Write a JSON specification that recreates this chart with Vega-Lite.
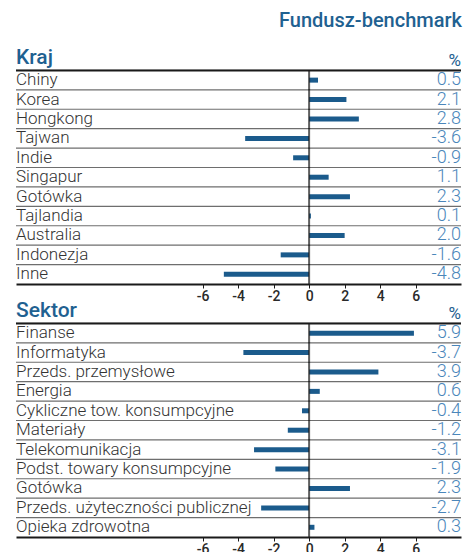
{
  "$schema": "https://vega.github.io/schema/vega-lite/v6.json",
  "padding": {"left": 15, "right": 9, "top": 10, "bottom": 0},
  "title": {"text": "Fundusz-benchmark", "anchor": "end", "fontSize": 20, "fontWeight": 500, "color": "#1f6191", "font": "Roboto", "offset": 16},
  "bounds": "flush",
  "spacing": 20,
  "config": {
    "view": {"stroke": null},
    "font": "Roboto",
    "locale": {"number": {"decimal": ".", "thousands": ",", "grouping": [3], "currency": ["$", ""], "minus": "-"}}
  },
  "datasets": {
    "kraj": [
      {"label": "Kraj", "value": null, "kind": "header"},
      {"label": "Chiny", "value": 0.5, "kind": "row"},
      {"label": "Korea", "value": 2.1, "kind": "row"},
      {"label": "Hongkong", "value": 2.8, "kind": "row"},
      {"label": "Tajwan", "value": -3.6, "kind": "row"},
      {"label": "Indie", "value": -0.9, "kind": "row"},
      {"label": "Singapur", "value": 1.1, "kind": "row"},
      {"label": "Gotówka", "value": 2.3, "kind": "row"},
      {"label": "Tajlandia", "value": 0.1, "kind": "row"},
      {"label": "Australia", "value": 2.0, "kind": "row"},
      {"label": "Indonezja", "value": -1.6, "kind": "row"},
      {"label": "Inne", "value": -4.8, "kind": "row"}
    ],
    "sektor": [
      {"label": "Sektor", "value": null, "kind": "header"},
      {"label": "Finanse", "value": 5.9, "kind": "row"},
      {"label": "Informatyka", "value": -3.7, "kind": "row"},
      {"label": "Przeds. przemysłowe", "value": 3.9, "kind": "row"},
      {"label": "Energia", "value": 0.6, "kind": "row"},
      {"label": "Cykliczne tow. konsumpcyjne", "value": -0.4, "kind": "row"},
      {"label": "Materiały", "value": -1.2, "kind": "row"},
      {"label": "Telekomunikacja", "value": -3.1, "kind": "row"},
      {"label": "Podst. towary konsumpcyjne", "value": -1.9, "kind": "row"},
      {"label": "Gotówka", "value": 2.3, "kind": "row"},
      {"label": "Przeds. użyteczności publicznej", "value": -2.7, "kind": "row"},
      {"label": "Opieka zdrowotna", "value": 0.3, "kind": "row"}
    ]
  },
  "vconcat": [
    {
      "data": {"name": "kraj"},
      "width": 445,
      "height": 233,
      "layer": [
        {
          "transform": [{"filter": "datum.kind == 'row'"}],
          "mark": {"type": "rule", "color": "#6e6e6e", "strokeWidth": 1.2},
          "encoding": {"y": {"field": "label", "type": "nominal", "bandPosition": 0, "axis": null, "scale": {"domain": ["Kraj","Chiny","Korea","Hongkong","Tajwan","Indie","Singapur","Gotówka","Tajlandia","Australia","Indonezja","Inne"], "paddingInner": 0, "paddingOuter": 0}}}
        },
        {
          "transform": [{"filter": "datum.kind == 'header'"}],
          "mark": {"type": "rule", "color": "#1a1a1a", "strokeWidth": 2},
          "encoding": {"y": {"field": "label", "type": "nominal", "bandPosition": 1, "axis": null, "scale": {"domain": ["Kraj","Chiny","Korea","Hongkong","Tajwan","Indie","Singapur","Gotówka","Tajlandia","Australia","Indonezja","Inne"], "paddingInner": 0, "paddingOuter": 0}}}
        },
        {
          "transform": [{"filter": "datum.kind == 'row'"}],
          "mark": {"type": "bar", "color": "#1b5b8c", "size": 5},
          "encoding": {
            "y": {"field": "label", "type": "nominal", "axis": null, "scale": {"domain": ["Kraj","Chiny","Korea","Hongkong","Tajwan","Indie","Singapur","Gotówka","Tajlandia","Australia","Indonezja","Inne"], "paddingInner": 0, "paddingOuter": 0}},
            "x": {"field": "value", "type": "quantitative", "scale": {"domain": [-16.5, 8.55], "nice": false, "zero": false}, "axis": {"values": [-6,-4,-2,0,2,4,6], "title": null, "grid": false, "domain": true, "domainColor": "#1a1a1a", "domainWidth": 2, "tickColor": "#1a1a1a", "tickSize": 4, "tickWidth": 1, "labelFont": "Roboto", "labelFontSize": 14, "labelFontWeight": 500, "labelColor": "#2a2a2a", "labelPadding": 1}},
            "x2": {"datum": 0}
          }
        },
        {
          "transform": [{"filter": "datum.kind == 'row'"}],
          "mark": {"type": "tick", "color": "#1a1a1a", "size": 20, "thickness": 2},
          "encoding": {
            "y": {"field": "label", "type": "nominal", "axis": null, "scale": {"domain": ["Kraj","Chiny","Korea","Hongkong","Tajwan","Indie","Singapur","Gotówka","Tajlandia","Australia","Indonezja","Inne"], "paddingInner": 0, "paddingOuter": 0}},
            "x": {"datum": 0, "type": "quantitative", "scale": {"domain": [-16.5, 8.55], "nice": false, "zero": false}}
          }
        },
        {
          "transform": [{"filter": "datum.kind == 'row'"}],
          "mark": {"type": "text", "align": "left", "baseline": "middle", "fontSize": 17, "fontWeight": 300, "color": "#333333"},
          "encoding": {
            "y": {"field": "label", "type": "nominal", "axis": null, "scale": {"domain": ["Kraj","Chiny","Korea","Hongkong","Tajwan","Indie","Singapur","Gotówka","Tajlandia","Australia","Indonezja","Inne"], "paddingInner": 0, "paddingOuter": 0}},
            "x": {"datum": -16.5, "type": "quantitative", "scale": {"domain": [-16.5, 8.55], "nice": false, "zero": false}},
            "text": {"field": "label"}
          }
        },
        {
          "transform": [{"filter": "datum.kind == 'row'"}],
          "mark": {"type": "text", "align": "right", "baseline": "middle", "fontSize": 18, "fontWeight": 300, "color": "#4a86ba"},
          "encoding": {
            "y": {"field": "label", "type": "nominal", "axis": null, "scale": {"domain": ["Kraj","Chiny","Korea","Hongkong","Tajwan","Indie","Singapur","Gotówka","Tajlandia","Australia","Indonezja","Inne"], "paddingInner": 0, "paddingOuter": 0}},
            "x": {"datum": 8.55, "type": "quantitative", "scale": {"domain": [-16.5, 8.55], "nice": false, "zero": false}},
            "text": {"field": "value", "type": "quantitative", "format": ".1f"}
          }
        },
        {
          "transform": [{"filter": "datum.kind == 'header'"}],
          "mark": {"type": "text", "align": "left", "baseline": "middle", "fontSize": 21, "fontWeight": 500, "color": "#1f6191", "dy": -3},
          "encoding": {
            "y": {"field": "label", "type": "nominal", "axis": null, "scale": {"domain": ["Kraj","Chiny","Korea","Hongkong","Tajwan","Indie","Singapur","Gotówka","Tajlandia","Australia","Indonezja","Inne"], "paddingInner": 0, "paddingOuter": 0}},
            "x": {"datum": -16.5, "type": "quantitative", "scale": {"domain": [-16.5, 8.55], "nice": false, "zero": false}},
            "text": {"field": "label"}
          }
        },
        {
          "transform": [{"filter": "datum.kind == 'header'"}],
          "mark": {"type": "text", "align": "right", "baseline": "middle", "fontSize": 17, "fontWeight": 400, "color": "#1f6191", "text": "%"},
          "encoding": {
            "y": {"field": "label", "type": "nominal", "axis": null, "scale": {"domain": ["Kraj","Chiny","Korea","Hongkong","Tajwan","Indie","Singapur","Gotówka","Tajlandia","Australia","Indonezja","Inne"], "paddingInner": 0, "paddingOuter": 0}},
            "x": {"datum": 8.55, "type": "quantitative", "scale": {"domain": [-16.5, 8.55], "nice": false, "zero": false}}
          }
        }
      ]
    },
    {
      "data": {"name": "sektor"},
      "width": 445,
      "height": 233,
      "layer": [
        {
          "transform": [{"filter": "datum.kind == 'row'"}],
          "mark": {"type": "rule", "color": "#6e6e6e", "strokeWidth": 1.2},
          "encoding": {"y": {"field": "label", "type": "nominal", "bandPosition": 0, "axis": null, "scale": {"domain": ["Sektor","Finanse","Informatyka","Przeds. przemysłowe","Energia","Cykliczne tow. konsumpcyjne","Materiały","Telekomunikacja","Podst. towary konsumpcyjne","Gotówka","Przeds. użyteczności publicznej","Opieka zdrowotna"], "paddingInner": 0, "paddingOuter": 0}}}
        },
        {
          "transform": [{"filter": "datum.kind == 'header'"}],
          "mark": {"type": "rule", "color": "#1a1a1a", "strokeWidth": 2},
          "encoding": {"y": {"field": "label", "type": "nominal", "bandPosition": 1, "axis": null, "scale": {"domain": ["Sektor","Finanse","Informatyka","Przeds. przemysłowe","Energia","Cykliczne tow. konsumpcyjne","Materiały","Telekomunikacja","Podst. towary konsumpcyjne","Gotówka","Przeds. użyteczności publicznej","Opieka zdrowotna"], "paddingInner": 0, "paddingOuter": 0}}}
        },
        {
          "transform": [{"filter": "datum.kind == 'row'"}],
          "mark": {"type": "bar", "color": "#1b5b8c", "size": 5},
          "encoding": {
            "y": {"field": "label", "type": "nominal", "axis": null, "scale": {"domain": ["Sektor","Finanse","Informatyka","Przeds. przemysłowe","Energia","Cykliczne tow. konsumpcyjne","Materiały","Telekomunikacja","Podst. towary konsumpcyjne","Gotówka","Przeds. użyteczności publicznej","Opieka zdrowotna"], "paddingInner": 0, "paddingOuter": 0}},
            "x": {"field": "value", "type": "quantitative", "scale": {"domain": [-16.5, 8.55], "nice": false, "zero": false}, "axis": {"values": [-6,-4,-2,0,2,4,6], "title": null, "grid": false, "domain": true, "domainColor": "#1a1a1a", "domainWidth": 2, "tickColor": "#1a1a1a", "tickSize": 4, "tickWidth": 1, "labelFont": "Roboto", "labelFontSize": 14, "labelFontWeight": 500, "labelColor": "#2a2a2a", "labelPadding": 1}},
            "x2": {"datum": 0}
          }
        },
        {
          "transform": [{"filter": "datum.kind == 'row'"}],
          "mark": {"type": "tick", "color": "#1a1a1a", "size": 20, "thickness": 2},
          "encoding": {
            "y": {"field": "label", "type": "nominal", "axis": null, "scale": {"domain": ["Sektor","Finanse","Informatyka","Przeds. przemysłowe","Energia","Cykliczne tow. konsumpcyjne","Materiały","Telekomunikacja","Podst. towary konsumpcyjne","Gotówka","Przeds. użyteczności publicznej","Opieka zdrowotna"], "paddingInner": 0, "paddingOuter": 0}},
            "x": {"datum": 0, "type": "quantitative", "scale": {"domain": [-16.5, 8.55], "nice": false, "zero": false}}
          }
        },
        {
          "transform": [{"filter": "datum.kind == 'row'"}],
          "mark": {"type": "text", "align": "left", "baseline": "middle", "fontSize": 17, "fontWeight": 300, "color": "#333333"},
          "encoding": {
            "y": {"field": "label", "type": "nominal", "axis": null, "scale": {"domain": ["Sektor","Finanse","Informatyka","Przeds. przemysłowe","Energia","Cykliczne tow. konsumpcyjne","Materiały","Telekomunikacja","Podst. towary konsumpcyjne","Gotówka","Przeds. użyteczności publicznej","Opieka zdrowotna"], "paddingInner": 0, "paddingOuter": 0}},
            "x": {"datum": -16.5, "type": "quantitative", "scale": {"domain": [-16.5, 8.55], "nice": false, "zero": false}},
            "text": {"field": "label"}
          }
        },
        {
          "transform": [{"filter": "datum.kind == 'row'"}],
          "mark": {"type": "text", "align": "right", "baseline": "middle", "fontSize": 18, "fontWeight": 300, "color": "#4a86ba"},
          "encoding": {
            "y": {"field": "label", "type": "nominal", "axis": null, "scale": {"domain": ["Sektor","Finanse","Informatyka","Przeds. przemysłowe","Energia","Cykliczne tow. konsumpcyjne","Materiały","Telekomunikacja","Podst. towary konsumpcyjne","Gotówka","Przeds. użyteczności publicznej","Opieka zdrowotna"], "paddingInner": 0, "paddingOuter": 0}},
            "x": {"datum": 8.55, "type": "quantitative", "scale": {"domain": [-16.5, 8.55], "nice": false, "zero": false}},
            "text": {"field": "value", "type": "quantitative", "format": ".1f"}
          }
        },
        {
          "transform": [{"filter": "datum.kind == 'header'"}],
          "mark": {"type": "text", "align": "left", "baseline": "middle", "fontSize": 21, "fontWeight": 500, "color": "#1f6191", "dy": -3},
          "encoding": {
            "y": {"field": "label", "type": "nominal", "axis": null, "scale": {"domain": ["Sektor","Finanse","Informatyka","Przeds. przemysłowe","Energia","Cykliczne tow. konsumpcyjne","Materiały","Telekomunikacja","Podst. towary konsumpcyjne","Gotówka","Przeds. użyteczności publicznej","Opieka zdrowotna"], "paddingInner": 0, "paddingOuter": 0}},
            "x": {"datum": -16.5, "type": "quantitative", "scale": {"domain": [-16.5, 8.55], "nice": false, "zero": false}},
            "text": {"field": "label"}
          }
        },
        {
          "transform": [{"filter": "datum.kind == 'header'"}],
          "mark": {"type": "text", "align": "right", "baseline": "middle", "fontSize": 17, "fontWeight": 400, "color": "#1f6191", "text": "%"},
          "encoding": {
            "y": {"field": "label", "type": "nominal", "axis": null, "scale": {"domain": ["Sektor","Finanse","Informatyka","Przeds. przemysłowe","Energia","Cykliczne tow. konsumpcyjne","Materiały","Telekomunikacja","Podst. towary konsumpcyjne","Gotówka","Przeds. użyteczności publicznej","Opieka zdrowotna"], "paddingInner": 0, "paddingOuter": 0}},
            "x": {"datum": 8.55, "type": "quantitative", "scale": {"domain": [-16.5, 8.55], "nice": false, "zero": false}}
          }
        }
      ]
    }
  ]
}
